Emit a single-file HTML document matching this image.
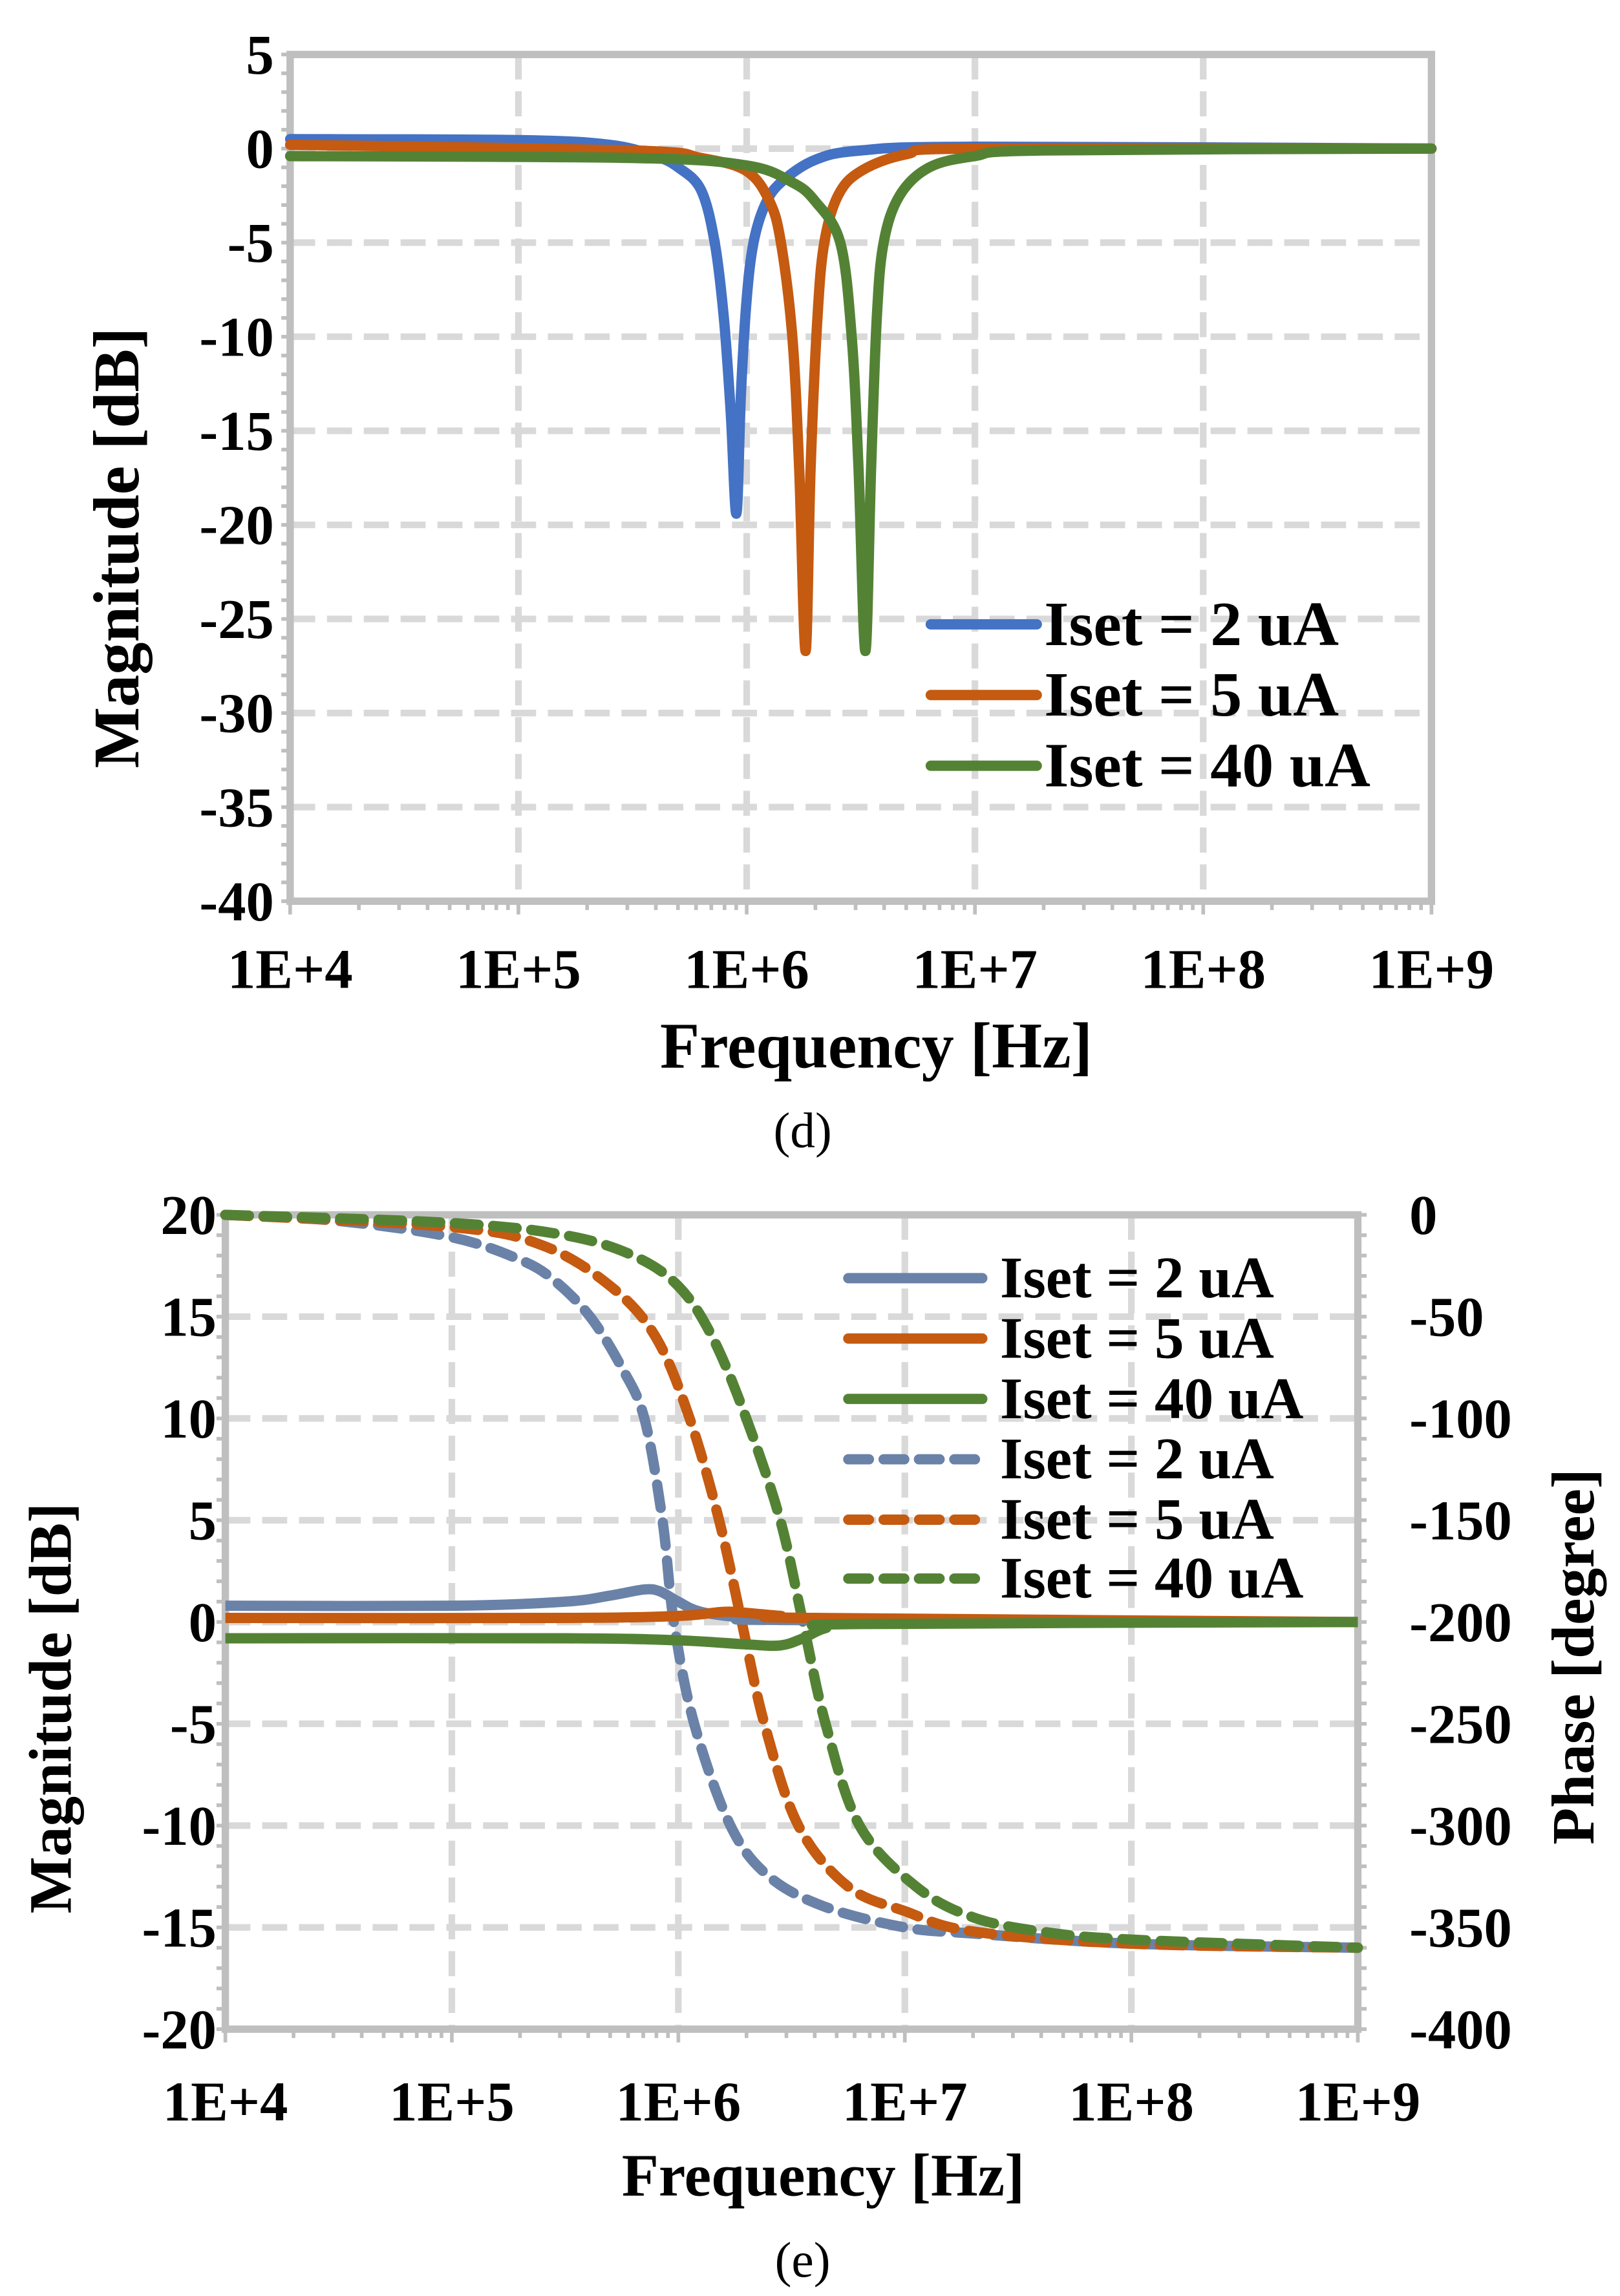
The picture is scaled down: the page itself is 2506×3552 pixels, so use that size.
<!DOCTYPE html>
<html><head><meta charset="utf-8">
<style>
html,body{margin:0;padding:0;background:#fff;}
svg{display:block;}
text{font-family:"Liberation Serif",serif;}
</style></head>
<body>
<svg id="fig" xmlns="http://www.w3.org/2000/svg" width="2506" height="3552" viewBox="0 0 1100 1559.2">
<rect width="1100" height="1559.2" fill="#fff"/>
<g id="chartD"></g>
<g id="chartE"></g>
<text x="545" y="779" font-size="34" text-anchor="middle">(d)</text>
<text x="545" y="1546" font-size="34" text-anchor="middle">(e)</text>
</svg>
<script>
// ---- data (log10 frequency, value) ----
const xTickLabels = ["1E+4","1E+5","1E+6","1E+7","1E+8","1E+9"];
const dYTicks = [5,0,-5,-10,-15,-20,-25,-30,-35,-40];
const eYTicks = [20,15,10,5,0,-5,-10,-15,-20];
const ePhaseTicks = [0,-50,-100,-150,-200,-250,-300,-350,-400];
const seriesNames = ["Iset = 2 uA","Iset = 5 uA","Iset = 40 uA"];

const dBlueF = [4,5,5.4,5.6,5.7,5.8,5.86,5.9,5.93,5.955,5.975,6.0,6.03,6.08,6.15,6.3,6.5,7,9];
const dBlueV = [0.5,0.45,0.2,-0.4,-1.0,-2.2,-5,-9,-14,-19.4,-13,-8,-5,-3,-1.8,-0.6,-0.1,0.1,0];
const dOrangeF = [4,5.5,5.8,6.0,6.1,6.15,6.2,6.23,6.258,6.28,6.31,6.34,6.4,6.5,6.7,7,9];
const dOrangeV = [0.2,-0.1,-0.5,-1.2,-2.8,-5,-10,-17,-26.7,-17,-9,-5,-2.5,-1.2,-0.3,0,0];
const dGreenF = [4,5.5,6.0,6.2,6.3,6.41,6.46,6.49,6.52,6.545,6.57,6.6,6.67,6.8,7,7.3,9];
const dGreenV = [-0.4,-0.5,-0.9,-1.8,-2.8,-5,-10,-17,-26.7,-17,-9,-5,-2.5,-1,-0.4,-0.1,0];

const eMagBlueF = [4,5,5.5,5.7,5.85,5.92,6.0,6.1,6.3,6.5,9];
const eMagBlueV = [0.8,0.8,1.0,1.3,1.6,1.5,1.0,0.5,0.2,0.1,0];
const eMagOrangeF = [4,5.5,6.0,6.2,6.3,6.45,6.6,9];
const eMagOrangeV = [0.2,0.2,0.3,0.5,0.45,0.3,0.2,0];
const eMagGreenF = [4,5.5,6.0,6.3,6.45,6.55,6.65,6.8,9];
const eMagGreenV = [-0.8,-0.8,-0.9,-1.1,-1.15,-0.8,-0.3,-0.1,0];

const ePhBlueF = [4,4.5,5,5.3,5.45,5.61,5.75,5.85,5.93,5.98,6.07,6.23,6.4,6.65,7,7.3,8,9];
const ePhBlueV = [0,-3,-11,-22,-32,-50,-75,-100,-150,-200,-250,-300,-325,-340,-350,-353,-358,-360];
const ePhOrangeF = [4,5,5.4,5.7,5.9,6.05,6.18,6.28,6.38,6.53,6.75,7,7.3,8,9];
const ePhOrangeV = [0,-6,-15,-35,-60,-100,-150,-200,-250,-300,-330,-342,-352,-358,-360];
const ePhGreenF = [4,5,5.5,5.8,6.0,6.15,6.3,6.45,6.55,6.65,6.8,7.05,7.3,7.6,8,9];
const ePhGreenV = [0,-4,-10,-20,-35,-60,-100,-150,-200,-250,-300,-330,-345,-352,-356,-360];

const NS="http://www.w3.org/2000/svg";
function mk(parent,tag,attrs,txt){const e=document.createElementNS(NS,tag);for(const k in attrs)e.setAttribute(k,attrs[k]);if(txt!==undefined)e.textContent=txt;parent.appendChild(e);return e;}

function smoothPath(pts){
  let d="M"+pts[0][0].toFixed(2)+","+pts[0][1].toFixed(2);
  for(let i=0;i<pts.length-1;i++){
    const p0=pts[i-1]||pts[i],p1=pts[i],p2=pts[i+1],p3=pts[i+2]||p2;
    const c1=[p1[0]+(p2[0]-p0[0])/6,p1[1]+(p2[1]-p0[1])/6];
    const c2=[p2[0]-(p3[0]-p1[0])/6,p2[1]-(p3[1]-p1[1])/6];
    d+="C"+c1[0].toFixed(2)+","+c1[1].toFixed(2)+" "+c2[0].toFixed(2)+","+c2[1].toFixed(2)+" "+p2[0].toFixed(2)+","+p2[1].toFixed(2);
  }
  return d;
}

function frame(g,L,R,T,B,yTicks,yMin,yMax,prefix){
  const xs=lf=>L+(lf-4)/5*(R-L);
  const ys=v=>T+(yMax-v)/(yMax-yMin)*(B-T);
  yTicks.forEach(v=>{
    if(v===yMax||v===yMin) return;
    const l=mk(g,"line",{x1:L,x2:R,y1:ys(v),y2:ys(v),stroke:"#D9D9D9","stroke-width":4.5,"stroke-dasharray":"17,8"});
    
    
  });
  for(let k=5;k<=8;k++){
    const l=mk(g,"line",{x1:xs(k),x2:xs(k),y1:T,y2:B,stroke:"#D9D9D9","stroke-width":4.5,"stroke-dasharray":"17,8"});
    
    
  }
  const step=(yMax-yMin)/((yTicks.length-1)*5);
  for(let v=yMin;v<=yMax+1e-9;v+=step){
    mk(g,"line",{x1:L-6,x2:L,y1:ys(v),y2:ys(v),stroke:"#BFBFBF","stroke-width":2.5});
  }
  for(let d=4;d<9;d++){for(let m=1;m<=9;m++){
    const lf=d+Math.log10(m);
    mk(g,"line",{x1:xs(lf),x2:xs(lf),y1:B,y2:B+(m===1?9:6),stroke:"#BFBFBF","stroke-width":2.5});
  }}
  mk(g,"line",{x1:xs(9),x2:xs(9),y1:B,y2:B+9,stroke:"#BFBFBF","stroke-width":2.5});
  const border=mk(g,"rect",{x:L,y:T,width:R-L,height:B-T,fill:"none",stroke:"#BFBFBF","stroke-width":5});
  
  
  return {xs,ys};
}

// ---------- chart d ----------
(function(){
  const g=document.getElementById("chartD");
  const L=197,R=972,T=37,B=612;
  const {xs,ys}=frame(g,L,R,T,B,dYTicks,-40,5,"d");
  dYTicks.forEach(v=>{
    const t=mk(g,"text",{x:186,y:ys(v)+13,"font-size":38,"font-weight":"bold","text-anchor":"end"},String(v));
    
    
  });
  xTickLabels.forEach((s,i)=>{
    const t=mk(g,"text",{x:xs(4+i),y:671,"font-size":38,"font-weight":"bold","text-anchor":"middle"},s);
    
    
  });
  const xt=mk(g,"text",{x:595,y:725,"font-size":44,"font-weight":"bold","text-anchor":"middle"},"Frequency [Hz]");
  
  
  const yt=mk(g,"text",{x:0,y:0,"font-size":44,"font-weight":"bold","text-anchor":"middle",transform:"translate(94,372) rotate(-90)"},"Magnitude [dB]");
  
  
  const series=[[dBlueF,dBlueV,"#4472C4"],[dOrangeF,dOrangeV,"#C55A11"],[dGreenF,dGreenV,"#548235"]];
  series.forEach((s,i)=>{
    const pts=s[0].map((f,j)=>[xs(f),ys(s[1][j])]);
    const p=mk(g,"path",{d:smoothPath(pts),fill:"none",stroke:s[2],"stroke-width":7,"stroke-linejoin":"round","stroke-linecap":"round"});
    
    
  });
  const legY=[424,472,520];
  series.forEach((s,i)=>{
    const le=mk(g,"g",{});
    
    
    mk(le,"line",{x1:632,x2:704,y1:legY[i],y2:legY[i],stroke:s[2],"stroke-width":7,"stroke-linecap":"round"});
    mk(le,"text",{x:709,y:legY[i]+14,"font-size":43,"font-weight":"bold"},seriesNames[i]);
  });
})();

// ---------- chart e ----------
(function(){
  const g=document.getElementById("chartE");
  const L=153,R=922,T=825,B=1378;
  const {xs,ys}=frame(g,L,R,T,B,eYTicks,-20,20,"e");
  const yp=v=>T+(0-v)/400*(B-T);
  for(let v=0;v>=-400;v-=10){mk(g,"line",{x1:R,x2:R+6,y1:yp(v),y2:yp(v),stroke:"#BFBFBF","stroke-width":2.5});}
  eYTicks.forEach(v=>{
    const t=mk(g,"text",{x:147,y:ys(v)+13,"font-size":38,"font-weight":"bold","text-anchor":"end"},String(v));
    
    
  });
  ePhaseTicks.forEach(v=>{
    const t=mk(g,"text",{x:957,y:yp(v)+13,"font-size":38,"font-weight":"bold","text-anchor":"start"},String(v));
    
    
  });
  xTickLabels.forEach((s,i)=>{
    const t=mk(g,"text",{x:xs(4+i),y:1440,"font-size":38,"font-weight":"bold","text-anchor":"middle"},s);
    
    
  });
  const xt=mk(g,"text",{x:559,y:1491,"font-size":41,"font-weight":"bold","text-anchor":"middle"},"Frequency [Hz]");
  
  
  const yt=mk(g,"text",{x:0,y:0,"font-size":41,"font-weight":"bold","text-anchor":"middle",transform:"translate(48,1160) rotate(-90)"},"Magnitude [dB]");
  
  
  const yt2=mk(g,"text",{x:0,y:0,"font-size":41,"font-weight":"bold","text-anchor":"middle",transform:"translate(1082,1125) rotate(-90)"},"Phase [degree]");
  
  
  const cols=["#6A82A8","#C55A11","#548235"];
  const mag=[[eMagBlueF,eMagBlueV],[eMagOrangeF,eMagOrangeV],[eMagGreenF,eMagGreenV]];
  const ph=[[ePhBlueF,ePhBlueV],[ePhOrangeF,ePhOrangeV],[ePhGreenF,ePhGreenV]];
  ph.forEach((s,i)=>{
    const pts=s[0].map((f,j)=>[xs(f),yp(s[1][j])]);
    const p=mk(g,"path",{d:smoothPath(pts),fill:"none",stroke:cols[i],"stroke-width":7,"stroke-dasharray":"16,10","stroke-linecap":"round"});
    
    
  });
  mag.forEach((s,i)=>{
    const pts=s[0].map((f,j)=>[xs(f),ys(s[1][j])]);
    const p=mk(g,"path",{d:smoothPath(pts),fill:"none",stroke:cols[i],"stroke-width":7,"stroke-linejoin":"round"});
    
    
  });
  const legY=[868,909,950,991,1032,1072];
  for(let i=0;i<6;i++){
    const c=cols[i%3];
    const le=mk(g,"g",{});
    
    
    const la={x1:576,x2:667,y1:legY[i],y2:legY[i],stroke:c,"stroke-width":7,"stroke-linecap":"round"};
    if(i>=3) la["stroke-dasharray"]="14,10";
    mk(le,"line",la);
    mk(le,"text",{x:679,y:legY[i]+13,"font-size":40,"font-weight":"bold"},seriesNames[i%3]);
  }
})();
</script>
</body></html>
